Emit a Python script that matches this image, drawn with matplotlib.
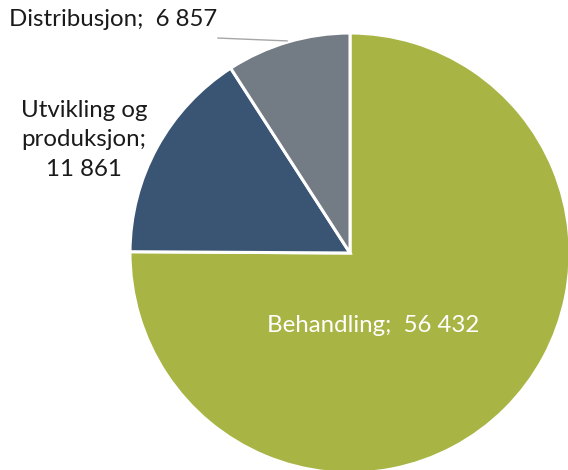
import matplotlib
matplotlib.use("Agg")
import matplotlib.pyplot as plt

categories = ["Behandling", "Utvikling og\nproduksjon", "Distribusjon"]
values = [56432, 11861, 6857]
value_labels = ["56 432", "11 861", "6 857"]
colors = ["#A8B444", "#3A5573", "#737B84"]

plt.rcParams['font.family'] = ['Lato', 'DejaVu Sans']

fig = plt.figure(figsize=(5.68, 4.70), dpi=100)
cx, cy, r = 350, 253, 220
W, H = 568, 470
ax = fig.add_axes([(cx - r) / W, (H - cy - r) / H, 2 * r / W, 2 * r / H])
ax.pie(values, colors=colors, startangle=90, counterclock=False, radius=1,
       wedgeprops=dict(edgecolor="white", linewidth=2.2))
ax.set_xlim(-1, 1)
ax.set_ylim(-1, 1)

fs = 17.3
ax.text(0.105, -0.33, f"{categories[0]};  {value_labels[0]}", color="white",
        fontsize=fs, ha="center", va="center")
ax.text(-1.21, 0.514, f"{categories[1]};\n{value_labels[1]}", color="#1a1a1a",
        fontsize=fs, ha="center", va="center", linespacing=1.5, clip_on=False)
ax.text(-1.077, 1.06, f"{categories[2]};  {value_labels[2]}", color="#1a1a1a",
        fontsize=fs, ha="center", va="center", clip_on=False)
ax.plot([-0.6, -0.286], [0.977, 0.964], color="#A6A6A6", lw=1, clip_on=False)

fig.savefig("out.png", dpi=100)
